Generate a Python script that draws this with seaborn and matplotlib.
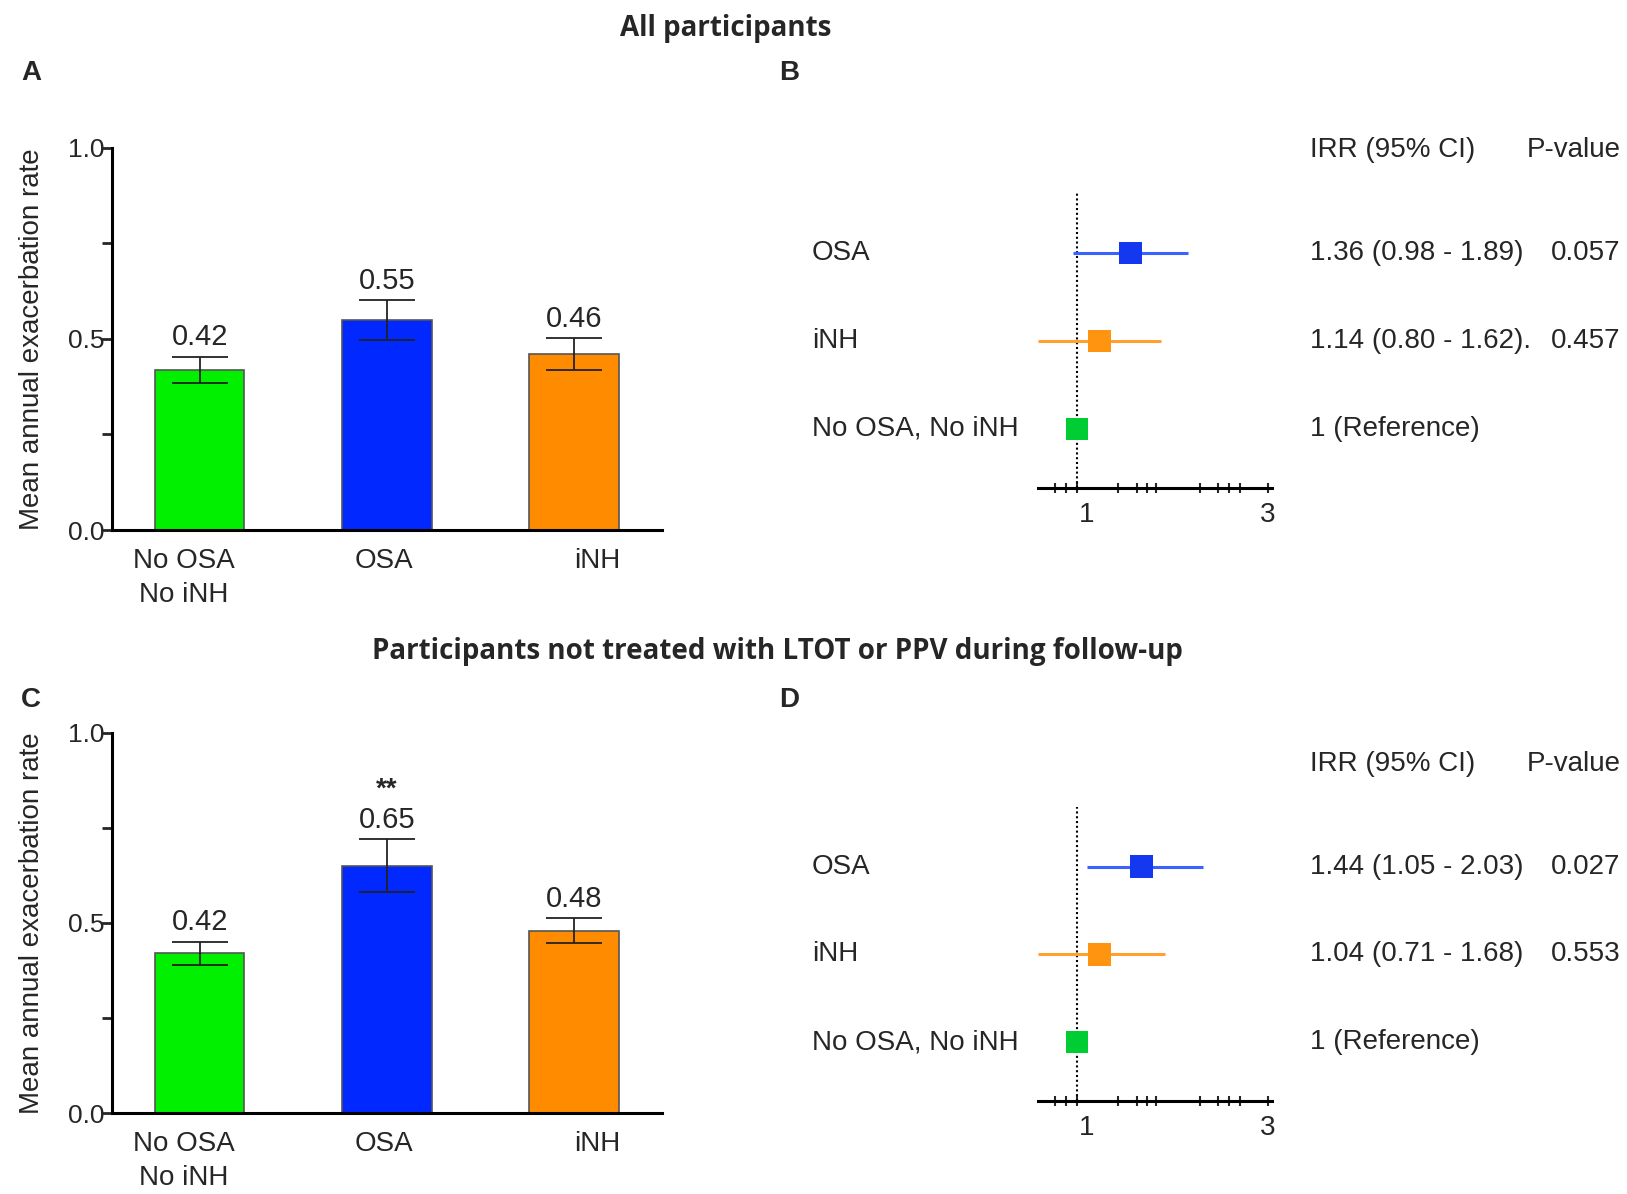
import numpy as np
import pandas as pd
import matplotlib
matplotlib.use("Agg")
import matplotlib.pyplot as plt
import matplotlib.transforms as mtransforms
from matplotlib.ticker import FixedLocator, NullFormatter
import seaborn as sns

# bar panels (A: all participants, C: not treated with LTOT/PPV)
groups = ["No OSA\nNo iNH", "OSA", "iNH"]
bar_colors = ["#00F000", "#0028FF", "#FF8C00"]
rate_all = [0.42, 0.55, 0.46]
err_all = [0.034, 0.052, 0.042]
rate_sub = [0.42, 0.65, 0.48]
err_sub = [0.031, 0.07, 0.033]
sig_sub = ["", "**", ""]

# forest panels (B, D); point/CI positions as drawn in the figure
forest_labels = ["OSA", "iNH", "No OSA, No iNH"]
forest_colors = ["#1438F0", "#FF9410", "#00CC33"]
line_colors = ["#3A62FF", "#FFA030", "#00CC33"]
irr_all = [1.36, 1.14, 1.0]
lo_all = [0.98, 0.80, 1.0]
hi_all = [1.89, 1.62, 1.0]
txt_all = ["1.36 (0.98 - 1.89)", "1.14 (0.80 - 1.62).", "1 (Reference)"]
p_all = ["0.057", "0.457", ""]
irr_sub = [1.45, 1.14, 1.0]
lo_sub = [1.06, 0.80, 1.0]
hi_sub = [2.06, 1.66, 1.0]
txt_sub = ["1.44 (1.05 - 2.03)", "1.04 (0.71 - 1.68)", "1 (Reference)"]
p_sub = ["0.027", "0.553", ""]
forest_ticks = [1, 3]
minor_ticks = [0.88, 0.94, 1.27, 1.41, 1.5, 1.58, 2.03, 2.25, 2.4, 2.56]

sns.set_style("ticks")
plt.rcParams["font.family"] = ["Liberation Sans", "DejaVu Sans"]
FS = 20

fig = plt.figure(figsize=(16.27, 11.94), dpi=100)


def bar_panel(ax, rates, errs, sig=None):
    df = pd.DataFrame({"group": groups, "rate": rates})
    sns.barplot(data=df, x="group", y="rate", hue="group", palette=bar_colors,
                width=0.477, edgecolor="#555555", linewidth=1.2, legend=False,
                saturation=1, ax=ax)
    pos = np.arange(len(groups))
    ax.errorbar(pos, rates, yerr=errs, fmt="none", ecolor="#222222",
                elinewidth=1.3, capsize=20, capthick=1.3)
    for i, (r, e) in enumerate(zip(rates, errs)):
        ax.text(pos[i], r + e + 0.014, f"{r:.2f}", ha="center", va="bottom",
                fontsize=21)
        if sig is not None and sig[i]:
            ax.text(pos[i], r + e + 0.095, sig[i], ha="center", va="bottom",
                    fontsize=FS, fontweight="bold")
    ax.set_ylim(0, 1)
    ax.set_xlim(-0.47, 2.47)
    ax.set_yticks([0, 0.5, 1.0])
    ax.set_yticklabels(["0.0", "0.5", "1.0"])
    ax.yaxis.set_minor_locator(FixedLocator([0.25, 0.75]))
    ax.tick_params(axis="y", which="major", length=8, width=2, labelsize=19,
                   pad=-3)
    ax.tick_params(axis="y", which="minor", length=7, width=2)
    # category labels sit slightly off-centre in the original figure
    ax.set_xticks(pos)
    ax.set_xticklabels([])
    ax.tick_params(axis="x", length=0)
    for p, g, dx in zip(pos, groups, [-16, -3, 23]):
        ax.annotate(g, xy=(p, 0), xycoords=("data", "axes fraction"),
                    xytext=(dx, -18), textcoords="offset pixels",
                    ha="center", va="top", fontsize=FS, linespacing=1.4,
                    annotation_clip=False)
    ax.set_xlabel("")
    ax.set_ylabel("Mean annual exacerbation rate", fontsize=FS)
    ax.yaxis.set_label_coords(-0.122, 0.5)
    sns.despine(ax=ax)
    for s in ["left", "bottom"]:
        ax.spines[s].set_linewidth(2.2)
        ax.spines[s].set_color("black")


def forest_panel(ax, irr, lo, hi, txt, pv):
    rows = np.arange(len(forest_labels), 0, -1)
    df = pd.DataFrame({"label": forest_labels, "irr": irr, "lo": lo,
                       "hi": hi, "row": rows})
    ax.axvline(1, color="black", linestyle=(0, (1, 1.3)), linewidth=1.5,
               zorder=1)
    for i, r in df.iterrows():
        if r["hi"] > r["lo"]:
            ax.hlines(r["row"], r["lo"], r["hi"], color=line_colors[i],
                      linewidth=2.2, zorder=2)
    sns.scatterplot(data=df, x="irr", y="row", hue="label",
                    palette=forest_colors, marker="s", s=260, linewidth=0,
                    legend=False, ax=ax, zorder=3)
    ax.set_xscale("log")
    ax.set_xlim(0.80, 3.07)
    ax.set_ylim(0.33, 3.68)
    ax.xaxis.set_major_locator(FixedLocator(forest_ticks))
    ax.set_xticklabels([])
    ax.xaxis.set_minor_locator(FixedLocator(minor_ticks))
    ax.xaxis.set_minor_formatter(NullFormatter())
    ax.tick_params(axis="x", which="both", direction="inout", length=7,
                   width=1.5)
    for t, dx in zip(forest_ticks, [10, 0]):
        ax.annotate(str(t), xy=(t, 0), xycoords=("data", "axes fraction"),
                    xytext=(dx, -14), textcoords="offset pixels",
                    ha="center", va="top", fontsize=FS,
                    annotation_clip=False)
    ax.set_yticks([])
    ax.set_xlabel("")
    ax.set_ylabel("")
    for s in ["left", "right", "top"]:
        ax.spines[s].set_visible(False)
    ax.spines["bottom"].set_linewidth(2.2)
    ax.spines["bottom"].set_color("black")

    tr = mtransforms.blended_transform_factory(fig.transFigure, ax.transData)
    for i, row in df.iterrows():
        ax.text(0.499, row["row"], row["label"], transform=tr, ha="left",
                va="center", fontsize=FS, clip_on=False)
        ax.text(0.805, row["row"], txt[i], transform=tr, ha="left",
                va="center", fontsize=FS, clip_on=False)
        if pv[i]:
            ax.text(0.996, row["row"], pv[i], transform=tr, ha="right",
                    va="center", fontsize=FS, clip_on=False)
    ax.text(0.805, 4.17, "IRR (95% CI)", transform=tr, ha="left",
            va="center", fontsize=FS, clip_on=False)
    ax.text(0.996, 4.17, "P-value", transform=tr, ha="right", va="center",
            fontsize=FS, clip_on=False)


ax_a = fig.add_axes([0.0688, 0.5561, 0.338, 0.320])
ax_b = fig.add_axes([0.638, 0.5913, 0.1438, 0.2471])
ax_c = fig.add_axes([0.0688, 0.0675, 0.338, 0.319])
ax_d = fig.add_axes([0.638, 0.0779, 0.1438, 0.2462])

bar_panel(ax_a, rate_all, err_all)
bar_panel(ax_c, rate_sub, err_sub, sig_sub)
forest_panel(ax_b, irr_all, lo_all, hi_all, txt_all, p_all)
forest_panel(ax_d, irr_sub, lo_sub, hi_sub, txt_sub, p_sub)

title_font = ["Open Sans", "DejaVu Sans"]
fig.text(0.446, 0.9765, "All participants", ha="center", va="center",
         fontsize=20, fontweight="bold", family=title_font)
fig.text(0.478, 0.454, "Participants not treated with LTOT or PPV during follow-up",
         ha="center", va="center", fontsize=20, fontweight="bold",
         family=title_font)
for lab, x, y in [("A", 0.019, 0.939), ("B", 0.485, 0.939),
                  ("C", 0.019, 0.414), ("D", 0.485, 0.414)]:
    fig.text(x, y, lab, ha="center", va="center", fontsize=20,
             fontweight="bold")

fig.savefig("out.png", dpi=100)
